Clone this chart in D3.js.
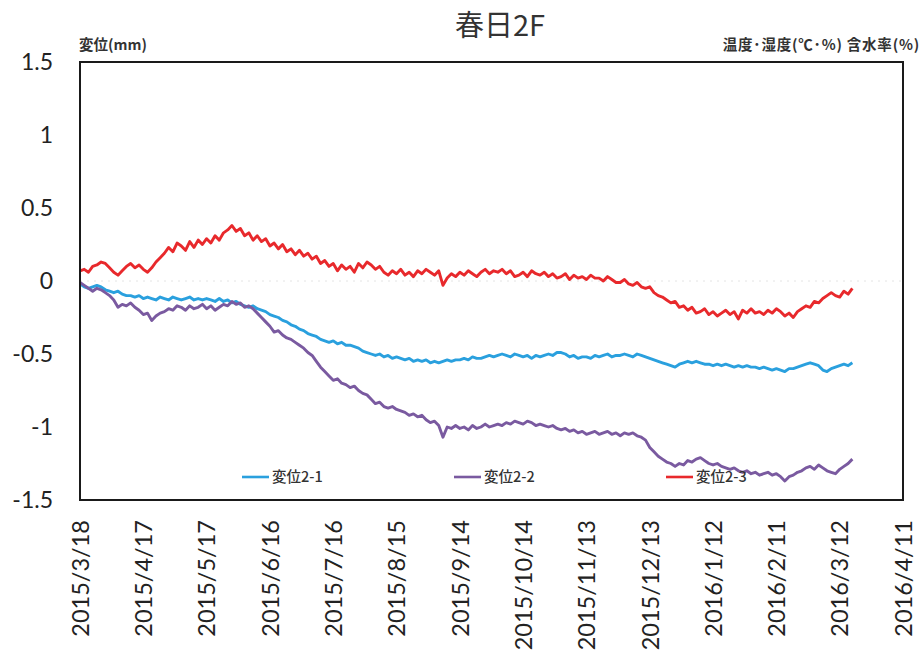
<!DOCTYPE html>
<html>
<head>
<meta charset="utf-8">
<script src="https://cdn.jsdelivr.net/npm/d3@7"></script>
<style>
  html, body { margin: 0; padding: 0; background: #fff; }
  svg { display: block; }
</style>
</head>
<body>
<svg id="chart" width="922" height="654"></svg>
<script>
// Readings every 2 days, starting 2015/3/18
const startDate = "2015-03-18";
const stepDays = 2;

const seriesNames = ["変位2-1", "変位2-2", "変位2-3"];
const seriesColors = ["#2aa0de", "#7a5aa0", "#e8292c"];

const disp21 = [
  -0.02, -0.04, -0.05, -0.04, -0.03, -0.04, -0.06, -0.07, -0.08, -0.07,
  -0.09, -0.10, -0.10, -0.11, -0.10, -0.12, -0.11, -0.12, -0.13, -0.11,
  -0.12, -0.13, -0.11, -0.12, -0.13, -0.12, -0.11, -0.13, -0.12, -0.13,
  -0.12, -0.13, -0.14, -0.12, -0.14, -0.13, -0.15, -0.14, -0.16, -0.17,
  -0.18, -0.17, -0.19, -0.20, -0.21, -0.23, -0.24, -0.25, -0.27, -0.28,
  -0.30, -0.31, -0.33, -0.34, -0.36, -0.37, -0.38, -0.40, -0.41, -0.42,
  -0.41, -0.43, -0.42, -0.44, -0.44, -0.45, -0.46, -0.48, -0.49, -0.50,
  -0.51, -0.50, -0.52, -0.51, -0.53, -0.52, -0.53, -0.54, -0.53, -0.55,
  -0.54, -0.55, -0.54, -0.56, -0.55, -0.56, -0.55, -0.54, -0.55, -0.54,
  -0.54, -0.53, -0.54, -0.52, -0.53, -0.53, -0.52, -0.51, -0.52, -0.51,
  -0.50, -0.51, -0.52, -0.50, -0.51, -0.52, -0.51, -0.53, -0.51, -0.52,
  -0.51, -0.50, -0.51, -0.49, -0.49, -0.50, -0.52, -0.51, -0.53, -0.52,
  -0.52, -0.53, -0.51, -0.52, -0.51, -0.50, -0.52, -0.51, -0.51, -0.50,
  -0.51, -0.52, -0.50, -0.51, -0.52, -0.53, -0.54, -0.55, -0.56, -0.57,
  -0.58, -0.59, -0.57, -0.56, -0.55, -0.56, -0.55, -0.56, -0.57, -0.57,
  -0.58, -0.57, -0.58, -0.57, -0.58, -0.59, -0.58, -0.59, -0.58, -0.59,
  -0.59, -0.60, -0.59, -0.60, -0.61, -0.60, -0.61, -0.62, -0.60, -0.60,
  -0.59, -0.58, -0.57, -0.56, -0.57, -0.58, -0.61, -0.62, -0.60, -0.59,
  -0.58, -0.57, -0.58, -0.56
];

const disp22 = [
  -0.01, -0.03, -0.05, -0.07, -0.05, -0.06, -0.08, -0.10, -0.13, -0.18,
  -0.16, -0.17, -0.15, -0.18, -0.20, -0.23, -0.22, -0.27, -0.24, -0.22,
  -0.21, -0.19, -0.20, -0.17, -0.18, -0.20, -0.17, -0.19, -0.18, -0.16,
  -0.19, -0.17, -0.20, -0.18, -0.16, -0.17, -0.14, -0.16, -0.15, -0.18,
  -0.17, -0.19, -0.22, -0.25, -0.28, -0.31, -0.35, -0.34, -0.37, -0.39,
  -0.40, -0.42, -0.44, -0.46, -0.49, -0.51, -0.55, -0.59, -0.62, -0.65,
  -0.68, -0.67, -0.70, -0.71, -0.73, -0.72, -0.75, -0.77, -0.78, -0.81,
  -0.84, -0.83, -0.86, -0.87, -0.86, -0.88, -0.89, -0.90, -0.92, -0.91,
  -0.93, -0.92, -0.95, -0.97, -0.96, -0.99, -1.07, -1.00, -1.01, -0.99,
  -1.01, -1.00, -1.02, -0.99, -1.01, -1.00, -0.98, -1.00, -0.99, -0.98,
  -0.99, -0.97, -0.98, -0.96, -0.97, -0.98, -0.96, -0.97, -0.99, -0.98,
  -0.99, -1.00, -0.99, -1.01, -1.02, -1.01, -1.03, -1.02, -1.04, -1.03,
  -1.05, -1.04, -1.03, -1.05, -1.04, -1.03, -1.05, -1.04, -1.06, -1.04,
  -1.05, -1.04, -1.06, -1.07, -1.09, -1.14, -1.17, -1.20, -1.22, -1.24,
  -1.25, -1.27, -1.25, -1.26, -1.23, -1.24, -1.22, -1.21, -1.23, -1.25,
  -1.26, -1.25, -1.27, -1.28, -1.29, -1.28, -1.30, -1.31, -1.30, -1.32,
  -1.31, -1.33, -1.32, -1.31, -1.33, -1.32, -1.34, -1.37, -1.34, -1.33,
  -1.31, -1.30, -1.28, -1.27, -1.29, -1.26, -1.28, -1.30, -1.31, -1.32,
  -1.29, -1.27, -1.25, -1.22
];

const disp23 = [
  0.07, 0.08, 0.06, 0.10, 0.11, 0.13, 0.12, 0.09, 0.06, 0.04,
  0.07, 0.10, 0.12, 0.09, 0.11, 0.08, 0.06, 0.09, 0.13, 0.16,
  0.19, 0.23, 0.20, 0.26, 0.24, 0.21, 0.27, 0.23, 0.28, 0.25,
  0.29, 0.26, 0.31, 0.28, 0.33, 0.35, 0.38, 0.34, 0.36, 0.31,
  0.33, 0.28, 0.31, 0.27, 0.29, 0.24, 0.26, 0.22, 0.25, 0.20,
  0.22, 0.18, 0.21, 0.17, 0.19, 0.15, 0.17, 0.12, 0.14, 0.10,
  0.12, 0.07, 0.11, 0.08, 0.10, 0.06, 0.12, 0.09, 0.13, 0.11,
  0.08, 0.10, 0.06, 0.04, 0.07, 0.05, 0.08, 0.04, 0.06, 0.03,
  0.07, 0.05, 0.08, 0.06, 0.04, 0.07, -0.03, 0.02, 0.05, 0.03,
  0.06, 0.04, 0.07, 0.05, 0.03, 0.06, 0.08, 0.05, 0.07, 0.06,
  0.08, 0.05, 0.07, 0.03, 0.04, 0.06, 0.03, 0.07, 0.05, 0.04,
  0.06, 0.03, 0.05, 0.02, 0.03, 0.05, 0.01, 0.04, 0.02, 0.03,
  0.01, 0.04, 0.02, 0.02, 0.00, 0.03, 0.01, -0.01, -0.01, 0.01,
  -0.02, -0.03, -0.01, -0.04, -0.05, -0.04, -0.08, -0.10, -0.11, -0.13,
  -0.15, -0.14, -0.18, -0.17, -0.20, -0.18, -0.22, -0.21, -0.19, -0.23,
  -0.21, -0.24, -0.22, -0.20, -0.23, -0.21, -0.26, -0.20, -0.22, -0.19,
  -0.22, -0.21, -0.23, -0.20, -0.22, -0.19, -0.21, -0.24, -0.22, -0.25,
  -0.21, -0.19, -0.17, -0.18, -0.14, -0.15, -0.12, -0.10, -0.08, -0.10,
  -0.11, -0.07, -0.09, -0.05
];

const seriesValues = [disp21, disp22, disp23];

const yTicks = [1.5, 1, 0.5, 0, -0.5, -1, -1.5];
const xTickLabels = [
  "2015/3/18", "2015/4/17", "2015/5/17", "2015/6/16", "2015/7/16",
  "2015/8/15", "2015/9/14", "2015/10/14", "2015/11/13", "2015/12/13",
  "2016/1/12", "2016/2/11", "2016/3/12", "2016/4/11"
];

const titleText = "春日2F";
const leftAxisTitle = "変位(mm)";
const rightAxisTitle = "温度･湿度(℃･%) 含水率(%)";

// ---- layout ----
const svg = d3.select("#chart");
const plot = { left: 80, right: 903, top: 62, bottom: 500 };

const parse = d3.timeParse("%Y/%m/%d");
const tickDates = xTickLabels.map(parse);
const fmt = d3.timeFormat("%Y/%-m/%-d");

const x = d3.scaleTime()
  .domain([tickDates[0], tickDates[tickDates.length - 1]])
  .range([plot.left, plot.right]);

const y = d3.scaleLinear()
  .domain([-1.5, 1.5])
  .range([plot.bottom, plot.top]);

const t0 = d3.timeParse("%Y-%m-%d")(startDate);
const rows = seriesValues.map(vals =>
  vals.map((v, i) => ({ date: d3.timeDay.offset(t0, i * stepDays), value: v }))
);

const numFont = "Lato, 'Open Sans', sans-serif";
const cjkFont = "'Noto Sans CJK JP', 'Noto Sans', sans-serif";

// faint zero line
svg.append("line")
  .attr("x1", plot.left).attr("x2", plot.right)
  .attr("y1", y(0)).attr("y2", y(0))
  .attr("stroke", "#e4e4e4")
  .attr("stroke-width", 1)
  .attr("stroke-dasharray", "2,5");

// y axis labels (plain hyphen minus)
const yAxis = d3.axisLeft(y)
  .tickValues(yTicks)
  .tickSize(0)
  .tickPadding(27)
  .tickFormat(d => String(d));
const yG = svg.append("g")
  .attr("transform", `translate(${plot.left},0)`)
  .call(yAxis);
yG.select(".domain").remove();
yG.selectAll("text")
  .attr("font-family", numFont)
  .attr("font-size", 23)
  .attr("fill", "#222");

// x axis labels, vertical
const xAxis = d3.axisBottom(x)
  .tickValues(tickDates)
  .tickSize(0)
  .tickFormat(fmt);
const xG = svg.append("g")
  .attr("transform", `translate(0,${plot.bottom})`)
  .call(xAxis);
xG.select(".domain").remove();
xG.selectAll("text")
  .attr("font-family", numFont)
  .attr("font-size", 23.5)
  .attr("fill", "#222")
  .attr("transform", "rotate(-90)")
  .attr("text-anchor", "end")
  .attr("x", -20)
  .attr("y", 0)
  .attr("dy", "0.35em");

// series lines
const line = d3.line()
  .x(d => x(d.date))
  .y(d => y(d.value));

svg.append("g")
  .selectAll("path")
  .data(rows)
  .join("path")
  .attr("d", line)
  .attr("fill", "none")
  .attr("stroke", (d, i) => seriesColors[i])
  .attr("stroke-width", 2.9)
  .attr("stroke-linejoin", "round");

// plot frame
svg.append("rect")
  .attr("x", plot.left).attr("y", plot.top)
  .attr("width", plot.right - plot.left)
  .attr("height", plot.bottom - plot.top)
  .attr("fill", "none")
  .attr("stroke", "#1a1a1a")
  .attr("stroke-width", 2);

// legend inside the plot, along the bottom
const legendX = [242, 454, 666];
const legendY = 477;
const lg = svg.append("g")
  .selectAll("g")
  .data(seriesNames)
  .join("g")
  .attr("transform", (d, i) => `translate(${legendX[i]},${legendY})`);
lg.append("line")
  .attr("x1", 0).attr("x2", 27)
  .attr("stroke", (d, i) => seriesColors[i])
  .attr("stroke-width", 2.6);
lg.append("text")
  .attr("x", 30)
  .attr("dy", "0.36em")
  .attr("font-family", cjkFont)
  .attr("font-size", 14.5)
  .attr("font-weight", 500)
  .attr("fill", "#333")
  .text(d => d);

// title and axis captions
svg.append("text")
  .attr("x", 500).attr("y", 36)
  .attr("text-anchor", "middle")
  .attr("font-family", cjkFont)
  .attr("font-size", 29)
  .attr("fill", "#333")
  .text(titleText);

svg.append("text")
  .attr("x", 79).attr("y", 50)
  .attr("font-family", cjkFont)
  .attr("font-size", 14.5)
  .attr("font-weight", 700)
  .attr("fill", "#333")
  .text(leftAxisTitle);

svg.append("text")
  .attr("x", 920).attr("y", 50)
  .attr("text-anchor", "end")
  .attr("font-family", cjkFont)
  .attr("font-size", 14.5)
  .attr("font-weight", 700)
  .attr("letter-spacing", 0.8)
  .attr("fill", "#333")
  .text(rightAxisTitle);
</script>
</body>
</html>
